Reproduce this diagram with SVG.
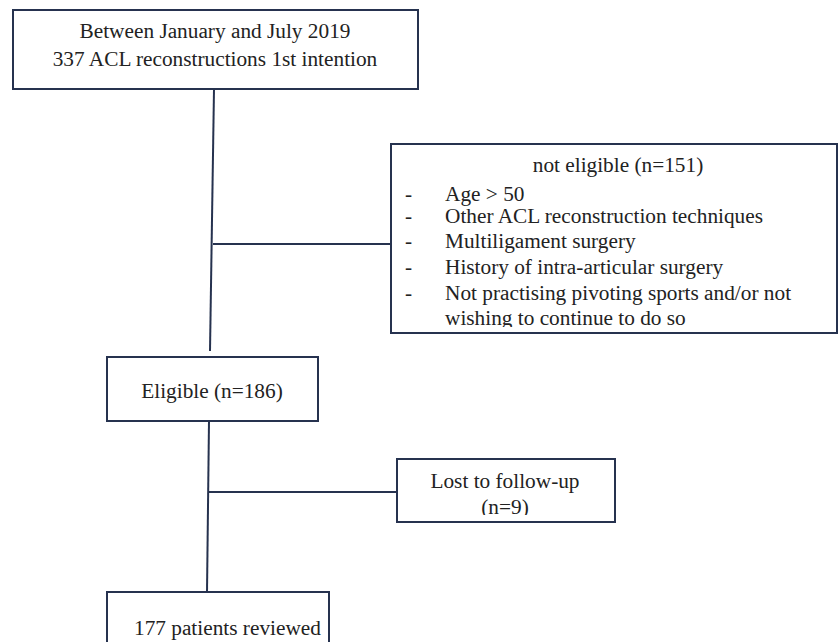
<svg xmlns="http://www.w3.org/2000/svg" width="840" height="642" viewBox="0 0 840 642">
<style>
.box{fill:#fff;stroke:#26324f;stroke-width:2}
.ln{stroke:#26324f;stroke-width:2;fill:none}
text{font-family:"Liberation Serif","Times New Roman",serif;font-size:21.3px;fill:#222}
.c{text-anchor:middle}
</style>
<defs>
<clipPath id="cpNE"><rect x="391" y="144" width="446" height="183"/></clipPath>
<clipPath id="cpLost"><rect x="397" y="459" width="218" height="56"/></clipPath>
</defs>
<rect width="840" height="642" fill="#fff"/>
<g id="connectors">
<line class="ln" x1="214" y1="89" x2="210" y2="351"/>
<line class="ln" x1="213" y1="244" x2="391" y2="244"/>
<line class="ln" x1="209" y1="421" x2="207" y2="592"/>
<line class="ln" x1="208" y1="492" x2="397" y2="492"/>
</g>
<g id="start">
<rect class="box" x="13" y="10" width="405" height="79"/>
<text class="c" x="215" y="38">Between January and July 2019</text>
<text class="c" x="215" y="66">337 ACL reconstructions 1st intention</text>
</g>
<g id="not-eligible">
<rect class="box" x="391" y="144" width="446" height="189"/>
<g clip-path="url(#cpNE)">
<text class="c" x="618" y="172">not eligible (n=151)</text>
<text x="405" y="201">-</text><text x="445" y="201">Age &gt; 50</text>
<text x="405" y="223">-</text><text x="445" y="223">Other ACL reconstruction techniques</text>
<text x="405" y="248">-</text><text x="445" y="248">Multiligament surgery</text>
<text x="405" y="274">-</text><text x="445" y="274">History of intra-articular surgery</text>
<text x="405" y="300">-</text><text x="445" y="300">Not practising pivoting sports and/or not</text>
<text x="445" y="325">wishing to continue to do so</text>
</g>
</g>
<g id="eligible">
<rect class="box" x="107" y="357" width="211" height="64"/>
<text class="c" x="212" y="398">Eligible (n=186)</text>
</g>
<g id="lost">
<rect class="box" x="397" y="459" width="218" height="63"/>
<g clip-path="url(#cpLost)">
<text class="c" x="505" y="488">Lost to follow-up</text>
<text class="c" x="505" y="514">(n=9)</text>
</g>
</g>
<g id="reviewed">
<rect class="box" x="107" y="592" width="222" height="60"/>
<text x="134" y="635">177 patients reviewed</text>
</g>
</svg>
